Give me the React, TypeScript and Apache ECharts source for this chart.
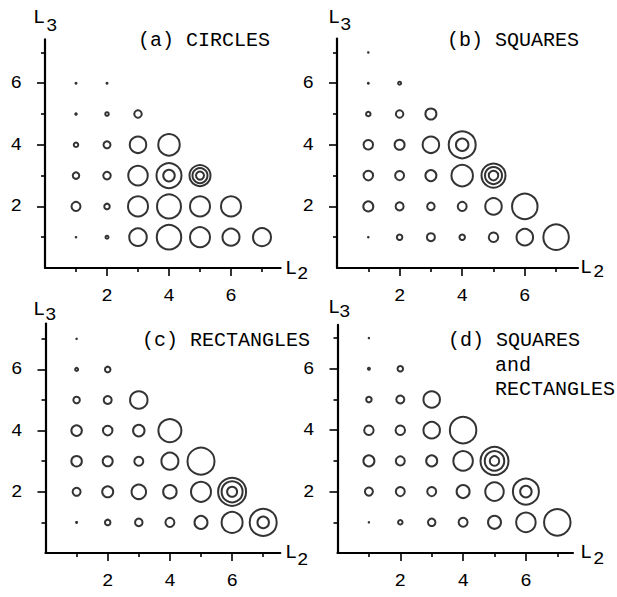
import React, { useEffect, useRef } from 'react';
import * as echarts from 'echarts';

// ---- data ----
const majorTicks = [2, 4, 6];
const minorTicks = [1, 3, 5, 7];
const panelTitles = ['(a) CIRCLES', '(b) SQUARES', '(c) RECTANGLES', '(d) SQUARES'];
const panelDExtra = ['and', 'RECTANGLES'];
const xAxisName = ['L', '2'];
const yAxisName = ['L', '3'];

// [L2, L3, outer diameter]
const dotsA = [[1, 6, 3], [2, 6, 3], [1, 5, 3.5], [1, 1, 2.5]];
const circlesA = [
  [2, 5, 5.5], [3, 5, 9.5],
  [1, 4, 6.5], [2, 4, 9], [3, 4, 18.5], [4, 4, 23.5],
  [1, 3, 8.5], [2, 3, 9.5], [3, 3, 21.5], [4, 3, 27], [5, 3, 23],
  [1, 2, 11], [2, 2, 7.5], [3, 2, 22], [4, 2, 26], [5, 2, 22], [6, 2, 22],
  [2, 1, 5], [3, 1, 19.5], [4, 1, 26.5], [5, 1, 22], [6, 1, 19], [7, 1, 20],
];
const ringsA = [[4, 3, 13.5], [5, 3, 17], [5, 3, 10]];

const dotsB = [[1, 7, 2.5], [1, 6, 3], [1, 1, 2.5]];
const circlesB = [
  [2, 6, 5],
  [1, 5, 6.5], [2, 5, 9.5], [3, 5, 13],
  [1, 4, 11.5], [2, 4, 12], [3, 4, 18.5], [4, 4, 29],
  [1, 3, 11.5], [2, 3, 11], [3, 3, 13], [4, 3, 23.5], [5, 3, 26],
  [1, 2, 12], [2, 2, 10], [3, 2, 9.5], [4, 2, 11], [5, 2, 18.5], [6, 2, 27.5],
  [2, 1, 7.5], [3, 1, 10], [4, 1, 7.5], [5, 1, 11.5], [6, 1, 18.5], [7, 1, 27.5],
];
const ringsB = [[4, 4, 14.5], [5, 3, 19], [5, 3, 11.5]];

const dotsC = [[1, 7, 2.5], [1, 1, 3]];
const circlesC = [
  [1, 6, 5], [2, 6, 7.5],
  [1, 5, 8.5], [2, 5, 10], [3, 5, 19.5],
  [1, 4, 12.5], [2, 4, 11.5], [3, 4, 13.5], [4, 4, 25],
  [1, 3, 12.5], [2, 3, 12], [3, 3, 11], [4, 3, 19], [5, 3, 29],
  [1, 2, 10], [2, 2, 13], [3, 2, 16.5], [4, 2, 15.5], [5, 2, 22], [6, 2, 30],
  [2, 1, 7.5], [3, 1, 9.5], [4, 1, 11], [5, 1, 15], [6, 1, 23], [7, 1, 29],
];
const ringsC = [[6, 2, 23], [6, 2, 12], [7, 1, 13.5]];

const dotsD = [[1, 7, 2.5], [1, 1, 2.5]];
const circlesD = [
  [1, 6, 4], [2, 6, 7.5],
  [1, 5, 7.5], [2, 5, 10], [3, 5, 18.5],
  [1, 4, 11.5], [2, 4, 11.5], [3, 4, 18.5], [4, 4, 28.5],
  [1, 3, 13], [2, 3, 11], [3, 3, 13], [4, 3, 21.5], [5, 3, 30],
  [1, 2, 10], [2, 2, 11], [3, 2, 11], [4, 2, 15], [5, 2, 20.5], [6, 2, 28],
  [2, 1, 6.5], [3, 1, 9.5], [4, 1, 11], [5, 1, 15], [6, 1, 21.5], [7, 1, 28.5],
];
const ringsD = [[5, 3, 21.5], [5, 3, 11.5], [6, 2, 13.5]];

const panels = [
  { dots: dotsA, circles: circlesA, rings: ringsA },
  { dots: dotsB, circles: circlesB, rings: ringsB },
  { dots: dotsC, circles: circlesC, rings: ringsC },
  { dots: dotsD, circles: circlesD, rings: ringsD },
];

// ---- layout ----
const layouts = [
  { x0: 45, xu: 31, y0: 268, yu: 30.8, xmax: 7.6, ymax: 7.42 },
  { x0: 337, xu: 31.3, y0: 268, yu: 30.8, xmax: 7.7, ymax: 7.45 },
  { x0: 45.5, xu: 31.1, y0: 553, yu: 30.6, xmax: 7.55, ymax: 7.5 },
  { x0: 337.5, xu: 31.4, y0: 553, yu: 30.7, xmax: 7.5, ymax: 7.43 },
];
const titlePos = [
  { x: 138, y: 40 },
  { x: 447, y: 40 },
  { x: 142, y: 340 },
  { x: 448, y: 340 },
];
const yNamePos = [
  { lx: 33, ly: 17.5, sx: 46, sy: 26 },
  { lx: 328, ly: 17.5, sx: 340, sy: 25 },
  { lx: 33, ly: 309, sx: 45, sy: 315 },
  { lx: 328, ly: 307.5, sx: 339, sy: 312 },
];
const xNamePos = [
  { lx: 285, ly: 268, sx: 297, sy: 273.5 },
  { lx: 580, ly: 267.5, sx: 593, sy: 272 },
  { lx: 285, ly: 552.5, sx: 297, sy: 559.5 },
  { lx: 580, ly: 552, sx: 593, sy: 558.5 },
];

const MONO = '"Liberation Mono", "DejaVu Sans Mono", monospace';
const STROKE = 2;

function txt(text: string, x: number, y: number, size: number) {
  return {
    type: 'text',
    x,
    y,
    silent: true,
    style: {
      text,
      fill: '#000',
      fontSize: size,
      fontFamily: MONO,
      align: 'left',
      verticalAlign: 'middle',
      textAlign: 'left',
      textVerticalAlign: 'middle',
    },
  };
}

export default function App() {
  const ref = useRef<HTMLDivElement>(null);

  useEffect(() => {
    const chart = echarts.init(ref.current!, null, { renderer: 'svg' });

    const grid: any[] = [];
    const xAxis: any[] = [];
    const yAxis: any[] = [];
    const series: any[] = [];
    const graphic: any[] = [];

    const labelStyle = { color: '#000', fontFamily: MONO, fontSize: 19 };

    layouts.forEach((L, i) => {
      const width = L.xmax * L.xu;
      const height = L.ymax * L.yu;
      grid.push({
        left: L.x0,
        top: L.y0 - height,
        width,
        height,
        containLabel: false,
        outerBoundsMode: 'none',
      });
      xAxis.push({
        gridIndex: i,
        type: 'value',
        position: 'bottom',
        min: 0,
        max: L.xmax,
        axisLine: { show: true, onZero: false, lineStyle: { color: '#000', width: 2.2 } },
        axisTick: { show: true, customValues: majorTicks, length: 8, lineStyle: { color: '#000', width: 1.6 } },
        axisLabel: { show: true, customValues: majorTicks, margin: 18, ...labelStyle },
        splitLine: { show: false },
      });
      xAxis.push({
        gridIndex: i,
        type: 'value',
        position: 'bottom',
        min: 0,
        max: L.xmax,
        axisLine: { show: false, onZero: false },
        axisTick: { show: true, customValues: minorTicks, length: 4, lineStyle: { color: '#000', width: 1.6 } },
        axisLabel: { show: false },
        splitLine: { show: false },
      });
      yAxis.push({
        gridIndex: i,
        type: 'value',
        position: 'left',
        min: 0,
        max: L.ymax,
        axisLine: { show: true, onZero: false, lineStyle: { color: '#000', width: 2.2 } },
        axisTick: { show: true, customValues: majorTicks, length: 8, lineStyle: { color: '#000', width: 1.6 } },
        axisLabel: { show: true, customValues: majorTicks, margin: 23, ...labelStyle },
        splitLine: { show: false },
      });
      yAxis.push({
        gridIndex: i,
        type: 'value',
        position: 'left',
        min: 0,
        max: L.ymax,
        axisLine: { show: false, onZero: false },
        axisTick: { show: true, customValues: minorTicks, length: 4, lineStyle: { color: '#000', width: 1.6 } },
        axisLabel: { show: false },
        splitLine: { show: false },
      });

      const P = panels[i];
      series.push({
        type: 'scatter',
        xAxisIndex: 2 * i,
        yAxisIndex: 2 * i,
        silent: true,
        clip: false,
        symbol: 'circle',
        symbolSize: (v: number[]) => Math.max(v[2] - STROKE, 1),
        itemStyle: { color: 'rgba(0,0,0,0)', borderColor: '#000', borderWidth: STROKE },
        data: [...P.circles, ...P.rings],
      });
      series.push({
        type: 'scatter',
        xAxisIndex: 2 * i,
        yAxisIndex: 2 * i,
        silent: true,
        clip: false,
        symbol: 'circle',
        symbolSize: (v: number[]) => v[2],
        itemStyle: { color: '#000', borderWidth: 0 },
        data: P.dots,
      });

      graphic.push(txt(panelTitles[i], titlePos[i].x, titlePos[i].y, 20));
      const yn = yNamePos[i];
      graphic.push(txt(yAxisName[0], yn.lx, yn.ly, 20));
      graphic.push(txt(yAxisName[1], yn.sx, yn.sy, 19));
      const xn = xNamePos[i];
      graphic.push(txt(xAxisName[0], xn.lx, xn.ly, 20));
      graphic.push(txt(xAxisName[1], xn.sx, xn.sy, 19));
    });

    graphic.push(txt(panelDExtra[0], 495, 365, 20));
    graphic.push(txt(panelDExtra[1], 495, 389, 20));

    chart.setOption({
      animation: false,
      backgroundColor: '#fff',
      grid,
      xAxis,
      yAxis,
      series,
      graphic,
    });

    return () => chart.dispose();
  }, []);

  return (
    <div
      ref={ref}
      style={{ position: 'fixed', left: 0, top: 0, width: 617, height: 597, background: '#fff' }}
    />
  );
}
